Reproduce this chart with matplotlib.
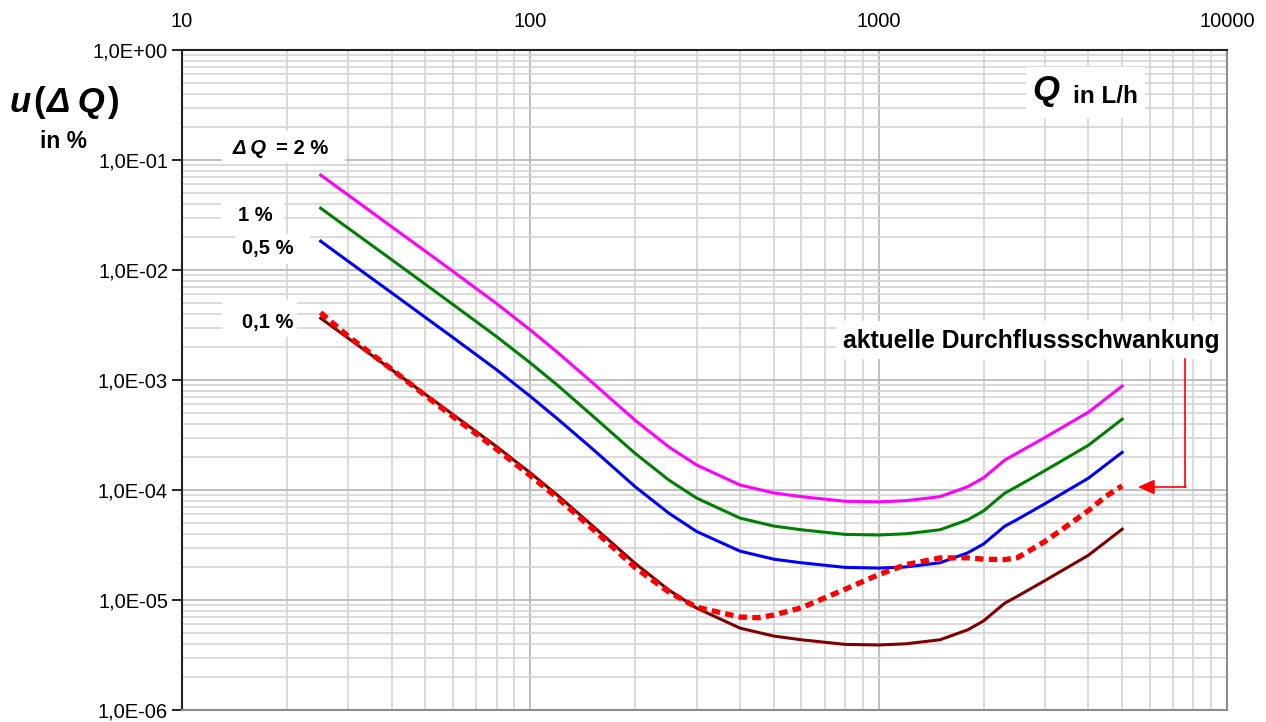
import matplotlib.pyplot as plt
from matplotlib.patches import Rectangle
from matplotlib.ticker import LogLocator, NullFormatter, FixedLocator, FixedFormatter

# Durchfluss Q in L/h
Q = [25, 30, 40, 50, 60, 80, 100, 120, 150, 200, 250, 300, 400, 500, 600,
     800, 1000, 1200, 1500, 1800, 2000, 2300, 2500, 3000, 4000, 5000]

u_2 = [7.3e-2, 4.8e-2, 2.47e-2, 1.48e-2, 9.7e-3, 4.95e-3, 2.85e-3, 1.77e-3,
       9.6e-4, 4.3e-4, 2.46e-4, 1.69e-4, 1.11e-4, 9.4e-5, 8.7e-5,
       7.9e-5, 7.8e-5, 8.0e-5, 8.7e-5, 1.07e-4, 1.29e-4, 1.87e-4, 2.17e-4,
       3.0e-4, 5.1e-4, 8.8e-4]
u_1 = [3.65e-2, 2.4e-2, 1.24e-2, 7.4e-3, 4.85e-3, 2.48e-3, 1.43e-3, 8.9e-4,
       4.8e-4, 2.15e-4, 1.23e-4, 8.45e-5, 5.55e-5, 4.7e-5, 4.35e-5,
       3.95e-5, 3.9e-5, 4.0e-5, 4.35e-5, 5.35e-5, 6.45e-5, 9.35e-5, 1.08e-4,
       1.5e-4, 2.55e-4, 4.4e-4]
u_05 = [1.83e-2, 1.2e-2, 6.2e-3, 3.7e-3, 2.43e-3, 1.24e-3, 7.1e-4, 4.4e-4,
        2.4e-4, 1.07e-4, 6.15e-5, 4.2e-5, 2.78e-5, 2.35e-5, 2.18e-5,
        1.98e-5, 1.95e-5, 2.0e-5, 2.18e-5, 2.68e-5, 3.23e-5, 4.68e-5, 5.4e-5,
        7.5e-5, 1.28e-4, 2.2e-4]
u_01 = [3.65e-3, 2.4e-3, 1.24e-3, 7.4e-4, 4.85e-4, 2.48e-4, 1.43e-4, 8.9e-5,
        4.8e-5, 2.15e-5, 1.23e-5, 8.45e-6, 5.55e-6, 4.7e-6, 4.35e-6,
        3.95e-6, 3.9e-6, 4.0e-6, 4.35e-6, 5.35e-6, 6.45e-6, 9.35e-6, 1.08e-5,
        1.5e-5, 2.55e-5, 4.4e-5]

# aktuelle Durchflussschwankung
Q_akt = [25, 30, 40, 50, 60, 80, 100, 120, 150, 200, 250, 300, 400, 450, 500,
         600, 800, 1000, 1200, 1500, 1800, 2000, 2300, 2500, 3000, 3500,
         4000, 4500, 5000]
u_akt = [4.1e-3, 2.5e-3, 1.25e-3, 7.2e-4, 4.65e-4, 2.35e-4, 1.35e-4, 8.4e-5,
         4.5e-5, 1.97e-5, 1.18e-5, 8.6e-6, 7.0e-6, 6.9e-6, 7.3e-6,
         8.5e-6, 1.25e-5, 1.7e-5, 2.1e-5, 2.41e-5, 2.42e-5, 2.35e-5, 2.33e-5,
         2.42e-5, 3.4e-5, 4.8e-5, 6.5e-5, 8.8e-5, 1.09e-4]

y_ticks = [1e0, 1e-1, 1e-2, 1e-3, 1e-4, 1e-5, 1e-6]
y_labels = ['1,0E+00', '1,0E-01', '1,0E-02', '1,0E-03', '1,0E-04', '1,0E-05', '1,0E-06']
x_ticks = [10, 100, 1000, 10000]
x_labels = ['10', '100', '1000', '10000']

plt.rcParams['font.family'] = ['Liberation Sans', 'DejaVu Sans']

W, H = 1266, 722
fig = plt.figure(figsize=(W / 100, H / 100), dpi=100)
ax = fig.add_axes([182 / W, 1 - 710 / H, (1227 - 182) / W, 660 / H])


def fx(px):
    return px / W


def fy(py):
    return 1 - py / H


ax.set_xscale('log')
ax.set_yscale('log')
ax.set_xlim(10, 10000)
ax.set_ylim(1e-6, 1)

ax.plot(Q, u_2, color='#ff00ff', lw=2.2, zorder=3)
ax.plot(Q, u_1, color='#008000', lw=2.2, zorder=3)
ax.plot(Q, u_05, color='#0000ff', lw=2.2, zorder=3)
ax.plot(Q, u_01, color='#800000', lw=2.2, zorder=3)
ax.plot(Q_akt, u_akt, color='#ff0000', lw=3.8, linestyle=(0, (1.6, 1.0)), zorder=4)

# Gitter
ax.yaxis.set_major_locator(FixedLocator(y_ticks))
ax.yaxis.set_major_formatter(FixedFormatter(y_labels))
ax.yaxis.set_minor_locator(LogLocator(base=10, subs=range(2, 10), numticks=20))
ax.yaxis.set_minor_formatter(NullFormatter())
ax.xaxis.set_major_locator(FixedLocator(x_ticks))
ax.xaxis.set_major_formatter(FixedFormatter(x_labels))
ax.xaxis.set_minor_locator(LogLocator(base=10, subs=range(2, 10), numticks=20))
ax.xaxis.set_minor_formatter(NullFormatter())
ax.grid(which='major', color='#b4b4b4', lw=1.2)
ax.grid(which='minor', color='#d4d4d4', lw=1.2)
ax.set_axisbelow(True)

ax.xaxis.tick_top()
ax.tick_params(axis='x', which='both', length=0, labelsize=14.5, pad=14)
ax.tick_params(axis='y', which='major', length=7, width=1.2, labelsize=14.5,
               direction='out', pad=3)
ax.tick_params(axis='y', which='minor', length=0)

for s in ['left', 'top']:
    ax.spines[s].set_color('#222222')
    ax.spines[s].set_linewidth(1.5)
for s in ['right', 'bottom']:
    ax.spines[s].set_color('#8c8c8c')
    ax.spines[s].set_linewidth(1.5)

# weisse Kaesten hinter den Beschriftungen (Pixel: x0, y0, x1, y1)
boxes = [(222, 131, 345, 163), (221, 200, 284, 229), (235, 234, 310, 264),
         (222, 300, 297, 337), (1026, 67, 1145, 118), (836, 321, 1226, 359)]
for x0, y0, x1, y1 in boxes:
    ax.add_patch(Rectangle((fx(x0), fy(y1)), fx(x1) - fx(x0), fy(y0) - fy(y1),
                           transform=fig.transFigure, facecolor='white',
                           edgecolor='none', zorder=1))

bold = dict(fontweight='bold', va='baseline', ha='left')
fig.text(fx(10), fy(112), 'u', fontsize=25, fontstyle='italic', **bold)
fig.text(fx(33), fy(112), '(', fontsize=25, **bold)
fig.text(fx(46), fy(112), 'Δ Q', fontsize=25, fontstyle='italic', **bold)
fig.text(fx(108), fy(112), ')', fontsize=25, **bold)
fig.text(fx(40), fy(148), 'in %', fontsize=16.5, **bold)

fig.text(fx(233), fy(154), 'Δ Q', fontsize=14.5, fontstyle='italic', **bold)
fig.text(fx(276), fy(154), '= 2 %', fontsize=14.5, **bold)
fig.text(fx(238), fy(221), '1 %', fontsize=14.5, **bold)
fig.text(fx(242), fy(254), '0,5 %', fontsize=14.5, **bold)
fig.text(fx(242), fy(328), '0,1 %', fontsize=14.5, **bold)

fig.text(fx(1032), fy(100), 'Q', fontsize=25, fontstyle='italic', **bold)
fig.text(fx(1073), fy(103), 'in L/h', fontsize=17.5, **bold)

fig.text(fx(843), fy(348), 'aktuelle Durchflussschwankung', fontsize=17.7, **bold)

# Pfeil zur aktuellen Kurve
fig.add_artist(plt.Line2D([fx(1185), fx(1185)], [fy(359), fy(487)],
                          color='#ff0000', lw=1.2, transform=fig.transFigure))
ax.annotate('', xy=(fx(1138), fy(487)), xycoords='figure fraction',
            xytext=(fx(1186), fy(487)), textcoords='figure fraction',
            arrowprops=dict(arrowstyle='-|>,head_length=1.0,head_width=0.45',
                            color='#ff0000', lw=1.2, shrinkA=0, shrinkB=0))

fig.savefig('out.png', dpi=100)
